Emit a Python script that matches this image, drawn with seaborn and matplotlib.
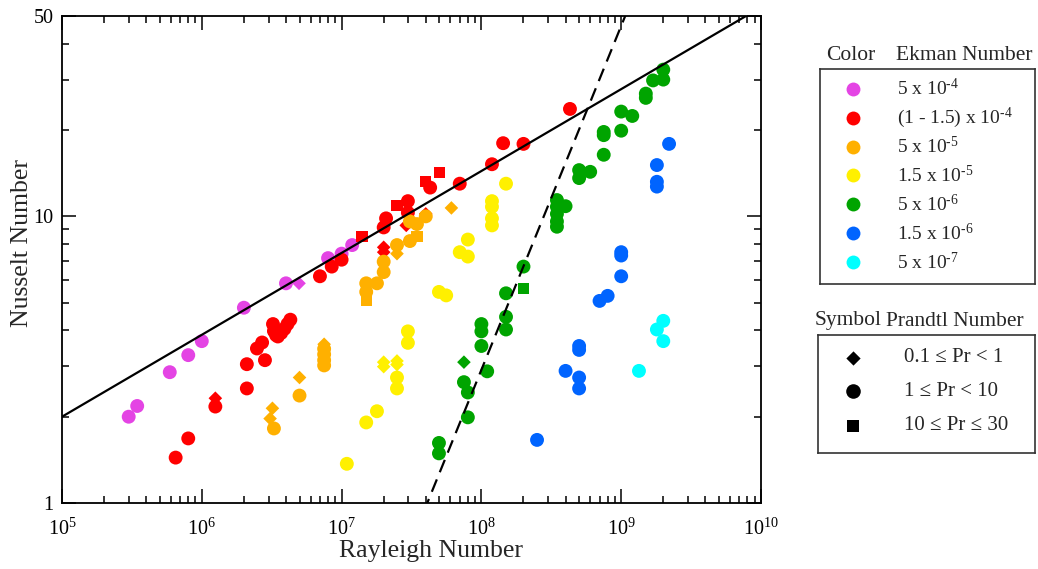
import numpy as np
import pandas as pd
import matplotlib
matplotlib.use("Agg")
import matplotlib.pyplot as plt
from matplotlib.ticker import LogLocator, FixedLocator, NullFormatter, LogFormatterMathtext, FixedFormatter
import seaborn as sns

# ---------------------------------------------------------------- data
ekman_labels = [r"5 x 10$^{\text{-}4}$", r"(1 - 1.5) x 10$^{\text{-}4}$", r"5 x 10$^{\text{-}5}$",
                r"1.5 x 10$^{\text{-}5}$", r"5 x 10$^{\text{-}6}$", r"1.5 x 10$^{\text{-}6}$",
                r"5 x 10$^{\text{-}7}$"]
ekman_colors = ["#E444E4", "#FF0000", "#FFB000", "#FFF000", "#00A400", "#0064FF", "#00FFFF"]

prandtl_labels = ["0.1 \u2264 Pr < 1", "1 \u2264 Pr < 10", "10 \u2264 Pr \u2264 30"]
prandtl_markers = ["D", "o", "s"]

# Ek = 5e-4
ra_e1 = [3.0e5, 3.45e5, 5.9e5, 8.0e5, 1.0e6, 2.0e6, 4.0e6, 8.0e6, 1.0e7, 1.19e7, 4.96e6]
nu_e1 = [2.0, 2.18, 2.86, 3.28, 3.67, 4.8, 5.84, 7.15, 7.41, 7.94, 5.84]
pr_e1 = [1, 1, 1, 1, 1, 1, 1, 1, 1, 1, 0]

# Ek = (1 - 1.5)e-4
ra_e2 = [6.5e5, 8.0e5, 1.25e6, 2.1e6, 2.1e6, 2.83e6, 2.48e6, 2.7e6,
         3.23e6, 3.28e6, 3.4e6, 3.5e6, 3.7e6, 3.9e6, 4.1e6, 4.3e6,
         7.0e6, 8.5e6, 1.0e7, 2.0e7, 2.08e7, 2.98e7, 2.98e7, 4.3e7, 7.0e7,
         1.19e8, 1.43e8, 2.0e8, 4.3e8,
         1.25e6, 2.0e7, 2.0e7, 2.9e7, 4.0e7,
         1.4e7, 2.49e7, 4.0e7, 5.0e7]
nu_e2 = [1.44, 1.68, 2.17, 2.51, 3.05, 3.15, 3.46, 3.63,
         4.21, 3.98, 3.85, 3.81, 3.92, 4.05, 4.21, 4.36,
         6.18, 6.68, 7.06, 9.15, 9.84, 10.3, 11.3, 12.6, 13.0,
         15.2, 18.0, 17.9, 23.7,
         2.32, 7.8, 7.5, 9.3, 10.2,
         8.5, 10.9, 13.2, 14.2]
pr_e2 = [1] * 29 + [0] * 5 + [2] * 4

# Ek = 5e-5
ra_e3 = [3.2e6, 3.08e6, 5.0e6, 7.5e6, 2.49e7, 6.1e7,
         3.28e6, 5.0e6, 7.5e6, 7.5e6, 7.5e6, 7.5e6, 1.5e7, 1.5e7, 1.79e7, 2.0e7,
         2.0e7, 2.49e7, 3.08e7, 3.08e7, 3.46e7, 4.0e7,
         1.5e7, 3.46e7]
nu_e3 = [2.14, 1.97, 2.74, 3.58, 7.41, 10.7,
         1.82, 2.37, 3.45, 3.3, 3.15, 3.02, 5.84, 5.45, 5.84, 6.39,
         6.95, 7.94, 8.2, 9.6, 9.4, 10.0,
         5.07, 8.5]
pr_e3 = [0] * 6 + [1] * 16 + [2] * 2

# Ek = 1.5e-5
ra_e4 = [1.09e7, 1.5e7, 1.79e7, 2.49e7, 2.49e7, 2.98e7, 2.98e7, 4.97e7, 5.6e7,
         7.0e7, 8.0e7, 8.0e7, 1.19e8, 1.19e8, 1.19e8, 1.19e8, 1.5e8,
         2.0e7, 2.0e7, 2.49e7, 2.49e7]
nu_e4 = [1.37, 1.91, 2.09, 2.74, 2.51, 3.97, 3.62, 5.45, 5.3,
         7.5, 7.24, 8.3, 9.3, 9.84, 10.8, 11.3, 13.0,
         3.1, 2.99, 3.13, 3.04]
pr_e4 = [1] * 17 + [0] * 4

# Ek = 5e-6
ra_e5 = [4.97e7, 4.97e7, 7.5e7, 8.0e7, 8.0e7, 1.0e8, 1.0e8, 1.0e8, 1.1e8,
         1.5e8, 1.5e8, 1.5e8, 2.0e8,
         3.47e8, 3.47e8, 4.0e8, 3.47e8, 3.47e8, 3.47e8,
         5.0e8, 5.0e8, 6.0e8, 7.5e8, 7.5e8, 7.5e8, 1.0e9, 1.0e9, 1.2e9,
         1.5e9, 1.5e9, 1.69e9, 2.0e9, 2.0e9,
         7.5e7, 2.0e8]
nu_e5 = [1.62, 1.49, 2.64, 2.43, 1.99, 4.21, 3.97, 3.53, 2.88,
         5.39, 4.46, 4.03, 6.68,
         11.4, 10.8, 10.85, 10.2, 9.6, 9.2,
         14.5, 13.6, 14.3, 16.4, 19.7, 19.2, 23.2, 19.9, 22.4,
         26.8, 25.9, 29.8, 32.5, 30.0,
         3.1, 5.59]
pr_e5 = [1] * 33 + [0, 2]

# Ek = 1.5e-6
ra_e6 = [2.5e8, 4.0e8, 5.0e8, 5.0e8, 5.0e8, 5.0e8, 7.0e8, 8.0e8,
         1.0e9, 1.0e9, 1.0e9, 1.8e9, 1.8e9, 1.8e9, 2.2e9]
nu_e6 = [1.66, 2.89, 2.74, 2.51, 3.53, 3.42, 5.07, 5.28,
         6.18, 7.5, 7.3, 13.2, 12.7, 15.1, 17.9]
pr_e6 = [1] * 15

# Ek = 5e-7
ra_e7 = [2.0e9, 1.8e9, 2.0e9, 1.34e9]
nu_e7 = [4.32, 4.03, 3.67, 2.89]
pr_e7 = [1] * 4

# scaling laws: Nu = A (Ra / Ra0)^beta
slow_nu0, slow_ra0, slow_beta = 2.0, 1.0e5, 2.0 / 7.0
steep_nu0, steep_ra0, steep_beta = 1.0, 4.1e7, 1.2

x_tick_exps = [5, 6, 7, 8, 9, 10]
y_tick_values = [1, 10, 50]

# ---------------------------------------------------------------- style
sns.set_style("ticks")
plt.rcParams["font.family"] = ["Liberation Serif", "DejaVu Serif"]
plt.rcParams["mathtext.fontset"] = "custom"
plt.rcParams["mathtext.rm"] = "Liberation Serif"
plt.rcParams["mathtext.it"] = "Liberation Serif:italic"
plt.rcParams["mathtext.bf"] = "Liberation Serif:bold"

groups = [(ra_e1, nu_e1, pr_e1), (ra_e2, nu_e2, pr_e2), (ra_e3, nu_e3, pr_e3),
          (ra_e4, nu_e4, pr_e4), (ra_e5, nu_e5, pr_e5), (ra_e6, nu_e6, pr_e6),
          (ra_e7, nu_e7, pr_e7)]
frames = []
for lab, (ra, nu, pr) in zip(ekman_labels, groups):
    frames.append(pd.DataFrame({"Ra": ra, "Nu": nu, "Ek": lab,
                                "Pr": [prandtl_labels[p] for p in pr]}))
df = pd.concat(frames, ignore_index=True)

W, H = 1038, 569
fig = plt.figure(figsize=(W / 100, H / 100), dpi=100)
ax = fig.add_axes([62 / W, 1 - 503 / H, (761 - 62) / W, (503 - 16) / H])

marker_map = dict(zip(prandtl_labels, prandtl_markers))
size_map = {prandtl_labels[0]: 48, prandtl_labels[1]: 100, prandtl_labels[2]: 64}

sns.scatterplot(data=df, x="Ra", y="Nu", hue="Ek", style="Pr", size="Pr",
                hue_order=ekman_labels, palette=ekman_colors,
                style_order=prandtl_labels, markers=marker_map,
                size_order=prandtl_labels, sizes=size_map,
                linewidth=0, alpha=1, legend=False, ax=ax, zorder=2)

ra_line = np.logspace(5, 10, 400)
ax.plot(ra_line, slow_nu0 * (ra_line / slow_ra0) ** slow_beta,
        color="black", lw=1.6, zorder=3)
ax.plot(ra_line, steep_nu0 * (ra_line / steep_ra0) ** steep_beta,
        color="black", lw=1.6, ls=(0, (6, 3.5)), zorder=3)

ax.set_xscale("log")
ax.set_yscale("log")
ax.set_xlim(1e5, 1e10)
ax.set_ylim(1, 50)

ax.xaxis.set_major_locator(FixedLocator([10.0 ** e for e in x_tick_exps]))
ax.xaxis.set_major_formatter(LogFormatterMathtext())
ax.xaxis.set_minor_locator(LogLocator(base=10, subs=np.arange(2, 10), numticks=20))
ax.xaxis.set_minor_formatter(NullFormatter())
ax.yaxis.set_major_locator(FixedLocator(y_tick_values))
ax.yaxis.set_major_formatter(FixedFormatter([str(v) for v in y_tick_values]))
ax.yaxis.set_minor_locator(FixedLocator([2, 3, 4, 5, 6, 7, 8, 9, 20, 30, 40]))
ax.yaxis.set_minor_formatter(NullFormatter())

ax.tick_params(which="both", direction="in", top=True, right=True,
               width=1.1, colors="black", labelsize=14.5)
ax.tick_params(which="major", length=10, pad=6)
ax.tick_params(axis="x", which="major", pad=11)
ax.tick_params(which="minor", length=5)
for sp in ax.spines.values():
    sp.set_linewidth(1.3)
    sp.set_color("black")

ax.set_xlabel("Rayleigh Number", fontsize=18.5)
ax.set_ylabel("Nusselt Number", fontsize=18.5)
ax.xaxis.set_label_coords(0.528, -0.077)
ax.yaxis.set_label_coords(-0.042, 0.534)

# ---------------------------------------------------------------- keys
key_fs = 14
title_fs = 15.5

k1 = fig.add_axes([820 / W, 1 - 284 / H, 215 / W, 215 / H])
k1.set_xlim(0, 1)
k1.set_ylim(0, 1)
k1.set_xticks([])
k1.set_yticks([])
for sp in k1.spines.values():
    sp.set_linewidth(1.2)
    sp.set_color("#333333")
rows1 = np.linspace(1 - (89 - 69) / 215, 1 - (262 - 69) / 215, len(ekman_labels))
for lab, col, yy in zip(ekman_labels, ekman_colors, rows1):
    k1.scatter([0.153], [yy], s=100, color=col, marker="o", linewidths=0)
    k1.text(0.358, yy, lab, fontsize=key_fs, va="center", ha="left")

fig.text(851 / W, 1 - 55 / H, "Color", fontsize=title_fs, ha="center", va="center")
fig.text(896 / W, 1 - 55 / H, "Ekman Number", fontsize=title_fs, ha="left", va="center")

k2 = fig.add_axes([818 / W, 1 - 453 / H, 217 / W, 118 / H])
k2.set_xlim(0, 1)
k2.set_ylim(0, 1)
k2.set_xticks([])
k2.set_yticks([])
for sp in k2.spines.values():
    sp.set_linewidth(1.2)
    sp.set_color("#333333")
rows2 = [1 - (358 - 335) / 118, 1 - (391 - 335) / 118, 1 - (426 - 335) / 118]
for lab, mk, yy in zip(prandtl_labels, prandtl_markers, rows2):
    k2.scatter([0.161], [yy], s=size_map[lab] * 1.1, color="black", marker=mk, linewidths=0)
    k2.text(0.396, yy, lab, fontsize=key_fs + 1, va="center", ha="left")

fig.text(848 / W, 1 - 321 / H, "Symbol", fontsize=title_fs, ha="center", va="center")
fig.text(886 / W, 1 - 321 / H, "Prandtl Number", fontsize=title_fs, ha="left", va="center")

fig.savefig("out.png", dpi=100)
